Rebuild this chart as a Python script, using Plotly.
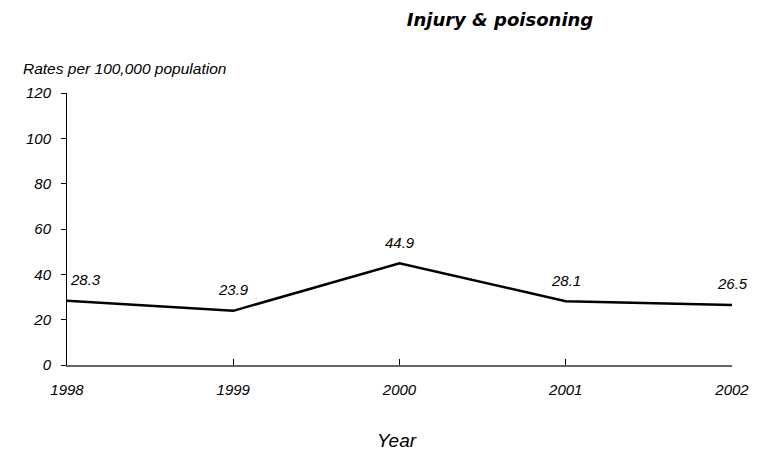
import plotly.graph_objects as go

years = ["1998", "1999", "2000", "2001", "2002"]
rates = [28.3, 23.9, 44.9, 28.1, 26.5]
y_ticks = [0, 20, 40, 60, 80, 100, 120]

fnt = "Liberation Sans, Arial, sans-serif"
# la pagina tiene margen de 8px en el body, se compensa con el tamaño
W, H = 752, 445

fig = go.Figure()
fig.add_trace(go.Scatter(
    x=list(range(len(years))),
    y=rates,
    mode="lines",
    line=dict(color="black", width=2.5),
    hoverinfo="skip",
    showlegend=False,
))

# etiquetas de valores encima de cada punto
for i, v in enumerate(rates):
    fig.add_annotation(
        x=i, y=v, text=f"{v}", showarrow=False,
        xanchor="left" if i == 0 else "center",
        yanchor="middle", yshift=21, xshift=1 if i == 0 else 0,
        font=dict(family=fnt, size=15, color="black", style="italic"),
    )

fig.add_annotation(
    x=0, y=1.0, xref="paper", yref="paper", xshift=-46, yshift=25,
    text="Rates per 100,000 population", showarrow=False,
    xanchor="left", yanchor="middle",
    font=dict(family=fnt, size=15.5, color="black", style="italic"),
)

fig.add_annotation(
    x=0.5, y=0, xref="paper", yref="paper", yshift=-75, xshift=-3,
    text="Year", showarrow=False, xanchor="center", yanchor="middle",
    font=dict(family=fnt, size=19, color="black", style="italic"),
)

fig.update_layout(
    width=W, height=H,
    paper_bgcolor="white", plot_bgcolor="white",
    margin=dict(l=59, r=28, t=85, b=88),
    title=dict(
        text="Injury & poisoning", x=492 / W, xanchor="center", y=1 - 12 / H, yanchor="middle",
        font=dict(family="DejaVu Sans, sans-serif", size=18, color="black",
                  style="italic", weight="bold"),
    ),
    xaxis=dict(
        range=[0, 4], tickvals=list(range(len(years))), ticktext=years,
        showline=True, linecolor="#666666", linewidth=1.5,
        ticks="inside", ticklen=6, tickcolor="black",
        showgrid=False, zeroline=False, ticklabelstandoff=10,
        tickfont=dict(family=fnt, size=15, color="black", style="italic"),
    ),
    yaxis=dict(
        range=[0, 120], tickvals=y_ticks,
        showline=True, linecolor="black", linewidth=1,
        ticks="outside", ticklen=5, tickcolor="black",
        showgrid=False, zeroline=False, ticklabelstandoff=7,
        tickfont=dict(family=fnt, size=15, color="black", style="italic"),
    ),
)

fig.write_html("out.html")
